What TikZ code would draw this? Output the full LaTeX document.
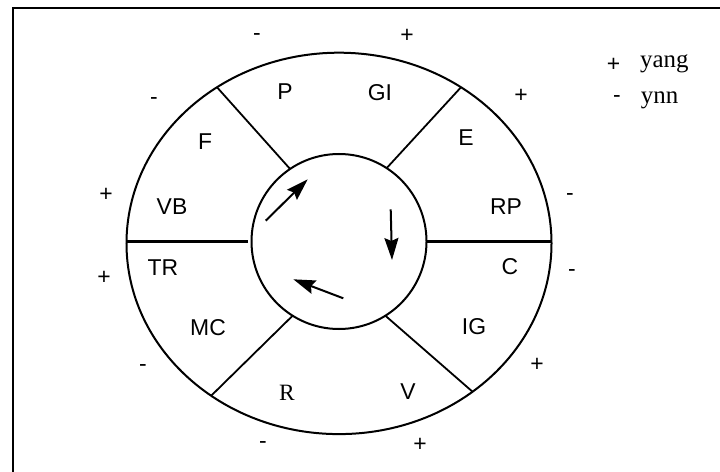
\documentclass[tikz,border=0pt]{standalone}
\usepackage{fontspec}
\setmainfont{Liberation Serif}
\setsansfont{Liberation Sans}
\usepackage{tikz}
\usetikzlibrary{arrows.meta,shapes.geometric}

\begin{document}
\begin{tikzpicture}[x=1bp,y=-1bp,
  ring/.style={draw,line width=2bp,inner sep=0pt,outer sep=0pt},
  spoke/.style={line width=1.8bp},
  axis/.style={line width=2.7bp},
  lab/.style={font=\sffamily\fontsize{23}{26}\selectfont,inner sep=0pt},
  serlab/.style={lab,font=\rmfamily\fontsize{23.5}{26}\selectfont},
  sgn/.style={font=\sffamily\fontsize{23}{26}\selectfont,inner sep=0pt},
  leg/.style={font=\rmfamily\fontsize{25}{28}\selectfont,inner sep=0pt,anchor=base west},
  arr/.style={-{Stealth[length=22bp,width=14bp,inset=3bp]},line width=2bp}]
\useasboundingbox (0,0) rectangle (720,472);
% frame, only its top and left edges fall on the page
\draw[line width=2.3bp] (12.8,472) -- (12.8,7.8) -- (720,7.8);
% rings
\node[ring,ellipse,minimum width=425bp,minimum height=381.4bp] (rim) at (339,243.4) {};
\node[ring,circle,minimum size=175bp] (hub) at (339,241.5) {};
% dividers
\draw[axis] (hub.west -| rim.west) -- ([xshift=-4bp]hub.west);
\draw[axis] (hub.east) -- (hub.east -| rim.east);
\draw[spoke] (rim.128.7) -- (hub.124.6);
\draw[spoke] (rim.52.4) -- (hub.57.9);
\draw[spoke] (rim.230.5) -- (hub.238.1);
\draw[spoke] (rim.312) -- (hub.302.6);
% cycle arrows inside the hub
\coordinate (a1) at (265.7,220.7);
\coordinate (b1) at (307.7,179.3);
\coordinate (a2) at (390.7,209.3);
\coordinate (b2) at (392,260);
\coordinate (a3) at (343.3,298.3);
\coordinate (b3) at (293.3,279.3);
\draw[arr] (a1) -- (b1);
\draw[arr] (a2) -- (b2);
\draw[arr] (a3) -- (b3);
% sectors
\node[lab]    (p)  at (285,92)  {P};
\node[lab]    (gi) at (380,93)  {GI};
\node[lab]    (f)  at (205,142) {F};
\node[lab]    (e)  at (466,138) {E};
\node[lab]    (vb) at (172,207) {VB};
\node[lab]    (rp) at (506,207) {RP};
\node[lab]    (tr) at (163,268) {TR};
\node[lab]    (c)  at (510,267) {C};
\node[lab]    (mc) at (208,328) {MC};
\node[lab]    (ig) at (474,327) {IG};
\node[serlab] (r)  at (287,393) {R};
\node[lab]    (v)  at (408,392) {V};
% polarity marks
\node[sgn] (s1)  at (257,37)  {-};
\node[sgn] (s2)  at (407,36)  {+};
\node[sgn] (s3)  at (154,101) {-};
\node[sgn] (s4)  at (521,96)  {+};
\node[sgn] (s5)  at (106,195) {+};
\node[sgn] (s6)  at (570,197) {-};
\node[sgn] (s7)  at (104,278) {+};
\node[sgn] (s8)  at (572,273) {-};
\node[sgn] (s9)  at (143,368) {-};
\node[sgn] (s10) at (537,365) {+};
\node[sgn] (s11) at (263,445) {-};
\node[sgn] (s12) at (420,445) {+};
% legend
\node[sgn] (lp) at (613.5,65.3) {+};
\node[leg] (yang) at (640,67.3) {yang};
\node[sgn] (lm) at (617,99.3) {-};
\node[leg] (ynn) at (640.7,103.3) {ynn};
\end{tikzpicture}
\end{document}
